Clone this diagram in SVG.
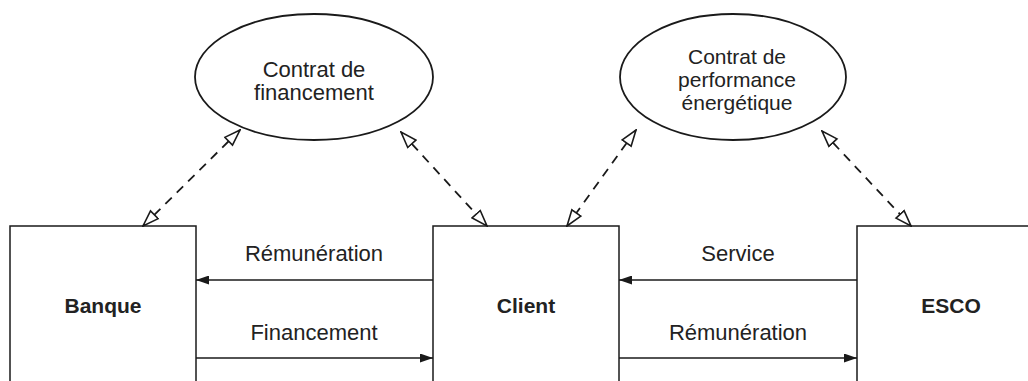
<svg xmlns="http://www.w3.org/2000/svg" width="1028" height="381" viewBox="0 0 1028 381">
  <style>
    .box { fill: #fff; stroke: #1a1a1a; stroke-width: 1.5; }
    .oval { fill: #fff; stroke: #1a1a1a; stroke-width: 1.8; }
    .lbl { font-family: "Liberation Sans", Arial, sans-serif; font-size: 22px; fill: #222; text-anchor: middle; }
    .lbl3 { font-family: "Liberation Sans", Arial, sans-serif; font-size: 21px; fill: #222; text-anchor: middle; }
    .name { font-family: "Liberation Sans", Arial, sans-serif; font-size: 21px; font-weight: bold; fill: #222; text-anchor: middle; }
    .dash { fill: none; stroke: #1a1a1a; stroke-width: 1.8; stroke-dasharray: 9 7; marker-start: url(#open); marker-end: url(#open); }
    .flow { fill: none; stroke: #1a1a1a; stroke-width: 1.7; marker-end: url(#solid); }
  </style>
  <defs>
    <marker id="open" viewBox="0 0 18 14" refX="17" refY="7" markerWidth="18" markerHeight="14" markerUnits="userSpaceOnUse" orient="auto-start-reverse">
      <path d="M1,1.5 L17,7 L1,12.5 Z" fill="#fff" stroke="#1a1a1a" stroke-width="1.6" stroke-linejoin="miter"/>
    </marker>
    <marker id="solid" viewBox="0 0 13 9" refX="13" refY="4.5" markerWidth="13" markerHeight="9" markerUnits="userSpaceOnUse" orient="auto">
      <path d="M0,0 L13,4.5 L0,9 Z" fill="#1a1a1a"/>
    </marker>
  </defs>

  <rect width="1028" height="381" fill="#fff"/>

  <!-- contracts -->
  <g id="contrat-financement">
    <ellipse class="oval" cx="314" cy="77" rx="119" ry="63"/>
    <text class="lbl" x="314" y="77">Contrat de</text>
    <text class="lbl" x="314" y="100">financement</text>
  </g>
  <g id="contrat-performance">
    <ellipse class="oval" cx="733" cy="77" rx="113" ry="63"/>
    <text class="lbl3" x="737" y="64">Contrat de</text>
    <text class="lbl3" x="737" y="87">performance</text>
    <text class="lbl3" x="737" y="110">énergétique</text>
  </g>

  <!-- parties -->
  <g id="banque">
    <rect class="box" x="10" y="226" width="186" height="170"/>
    <text class="name" x="103" y="313">Banque</text>
  </g>
  <g id="client">
    <rect class="box" x="433" y="226" width="186" height="170"/>
    <text class="name" x="526" y="313">Client</text>
  </g>
  <g id="esco">
    <rect class="box" x="857" y="226" width="190" height="170"/>
    <text class="name" x="951" y="313">ESCO</text>
  </g>

  <!-- connectors -->
  <g id="connectors">
    <line class="dash" x1="240" y1="130" x2="143" y2="226"/>
    <line class="dash" x1="401" y1="132" x2="487" y2="226"/>
    <line class="dash" x1="636" y1="130" x2="567" y2="226"/>
    <line class="dash" x1="822" y1="131" x2="911" y2="226"/>

    <line class="flow" x1="433" y1="280" x2="196" y2="280"/>
    <line class="flow" x1="196" y1="358" x2="433" y2="358"/>
    <line class="flow" x1="857" y1="280" x2="619" y2="280"/>
    <line class="flow" x1="619" y1="358" x2="857" y2="358"/>

    <text class="lbl" x="314" y="261">Rémunération</text>
    <text class="lbl" x="314" y="340">Financement</text>
    <text class="lbl" x="738" y="261">Service</text>
    <text class="lbl" x="738" y="340">Rémunération</text>
  </g>
</svg>
